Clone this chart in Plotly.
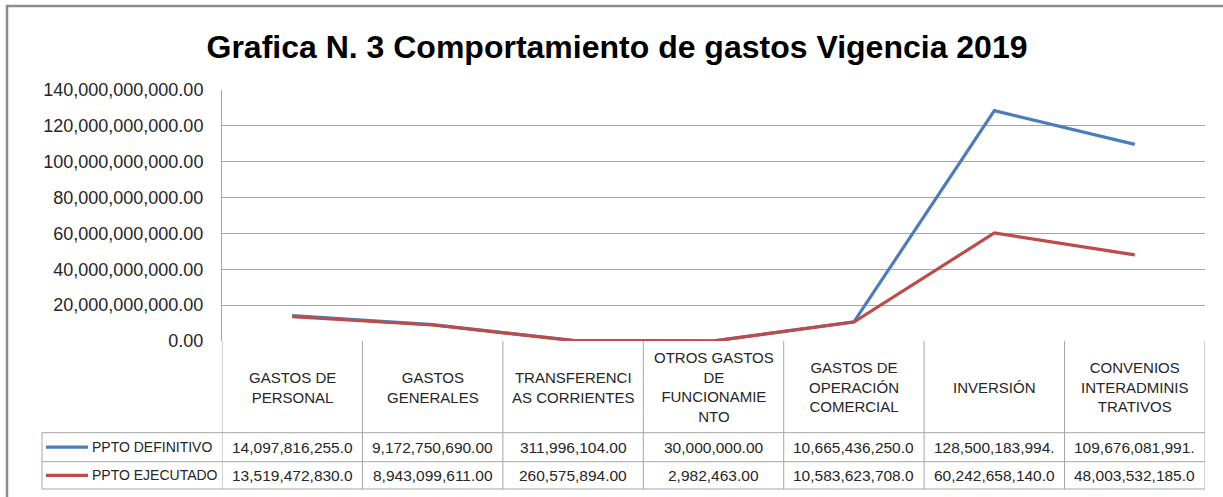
import plotly.graph_objects as go

# Data
categories = ["GASTOS DE PERSONAL", "GASTOS GENERALES", "TRANSFERENCIAS CORRIENTES",
              "OTROS GASTOS DE FUNCIONAMIENTO", "GASTOS DE OPERACIÓN COMERCIAL",
              "INVERSIÓN", "CONVENIOS INTERADMINISTRATIVOS"]
header_labels = ["GASTOS DE<br>PERSONAL", "GASTOS<br>GENERALES", "TRANSFERENCI<br>AS CORRIENTES",
                 "OTROS GASTOS<br>DE<br>FUNCIONAMIE<br>NTO", "GASTOS DE<br>OPERACIÓN<br>COMERCIAL",
                 "INVERSIÓN", "CONVENIOS<br>INTERADMINIS<br>TRATIVOS"]
ppto_definitivo = [14097816255.0, 9172750690.0, 311996104.0, 30000000.0,
                   10665436250.0, 128500183994.0, 109676081991.0]
ppto_ejecutado = [13519472830.0, 8943099611.0, 260575894.0, 2982463.0,
                  10583623708.0, 60242658140.0, 48003532185.0]
series = [("PPTO DEFINITIVO", ppto_definitivo, "#4A7EBB"),
          ("PPTO EJECUTADO", ppto_ejecutado, "#BE4B48")]

FONT = "Liberation Sans"
TXT = "#262626"
GRID = "#A6A6A6"

# plot area in pixels: x 222..1205, y 90..341
def py(p):
    return (341 - p) / 251.0

def px(p):
    return (p - 222) / 983.0

fig = go.Figure()
for name, vals, col in series:
    fig.add_trace(go.Scatter(x=categories, y=vals, mode="lines", name=name,
                             line=dict(color=col, width=3.2)))

shapes = []
annotations = []

# outer chart border
shapes.append(dict(type="rect", xref="paper", yref="paper", x0=px(7), x1=1.2, y0=py(6), y1=-1.0,
                   line=dict(color="#8C8C8C", width=2.5), layer="below"))

# data table grid
row_lines = [432.7, 461.7, 489]
for r in row_lines:
    shapes.append(dict(type="line", xref="paper", yref="paper", x0=px(42), x1=1.0, y0=py(r), y1=py(r),
                       line=dict(color=GRID, width=1)))
shapes.append(dict(type="line", xref="paper", yref="paper", x0=px(42), x1=px(42), y0=py(432.7), y1=py(489),
                   line=dict(color=GRID, width=1)))
for i in range(len(categories) + 1):
    shapes.append(dict(type="line", xref="x", yref="paper", x0=i - 0.5, x1=i - 0.5, y0=0, y1=py(489),
                       line=dict(color=GRID, width=1)))

# headers
for cat, lab in zip(categories, header_labels):
    annotations.append(dict(x=cat, y=py(387), xref="x", yref="paper", text=lab, showarrow=False,
                            font=dict(family=FONT, size=15, color=TXT), yanchor="middle"))

# rows
row_centers = [447.2, 475.3]
for (name, vals, col), yc in zip(series, row_centers):
    shapes.append(dict(type="line", xref="paper", yref="paper", x0=px(46), x1=px(88), y0=py(yc), y1=py(yc),
                       line=dict(color=col, width=3.2)))
    annotations.append(dict(x=px(90), y=py(yc), xref="paper", yref="paper", text=name, showarrow=False,
                            xanchor="left", yanchor="middle", font=dict(family=FONT, size=14, color=TXT)))
    for cat, v in zip(categories, vals):
        annotations.append(dict(x=cat, y=py(yc), xref="x", yref="paper", text=f"{v:,.2f}"[:16],
                                showarrow=False, yanchor="middle",
                                font=dict(family=FONT, size=15.5, color=TXT)))

fig.update_layout(
    width=1223, height=497,
    margin=dict(l=222, r=18, t=90, b=156),
    paper_bgcolor="white", plot_bgcolor="white",
    showlegend=False,
    title=dict(text="<b>Grafica N. 3 Comportamiento de gastos Vigencia 2019</b>",
               x=617 / 1223, xanchor="center", xref="container",
               y=1 - 47 / 497, yanchor="middle", yref="container",
               font=dict(family=FONT, size=32, color="black")),
    shapes=shapes, annotations=annotations,
)
fig.update_xaxes(range=[-0.5, 6.5], showticklabels=False, showgrid=False, zeroline=False,
                 showline=False, ticks="")
fig.update_yaxes(range=[0, 140e9], dtick=20e9, tickformat=",.2f", showgrid=True, gridcolor=GRID,
                 gridwidth=1, zeroline=False, showline=True, linecolor=GRID, linewidth=1, ticks="",
                 ticklabelstandoff=14, tickfont=dict(family=FONT, size=18, color=TXT))

# drop the browser's default page margin so the figure sits at the window's corner
fig.write_html("out.html", config={"displayModeBar": False},
               post_script="document.body.style.margin='0';")
